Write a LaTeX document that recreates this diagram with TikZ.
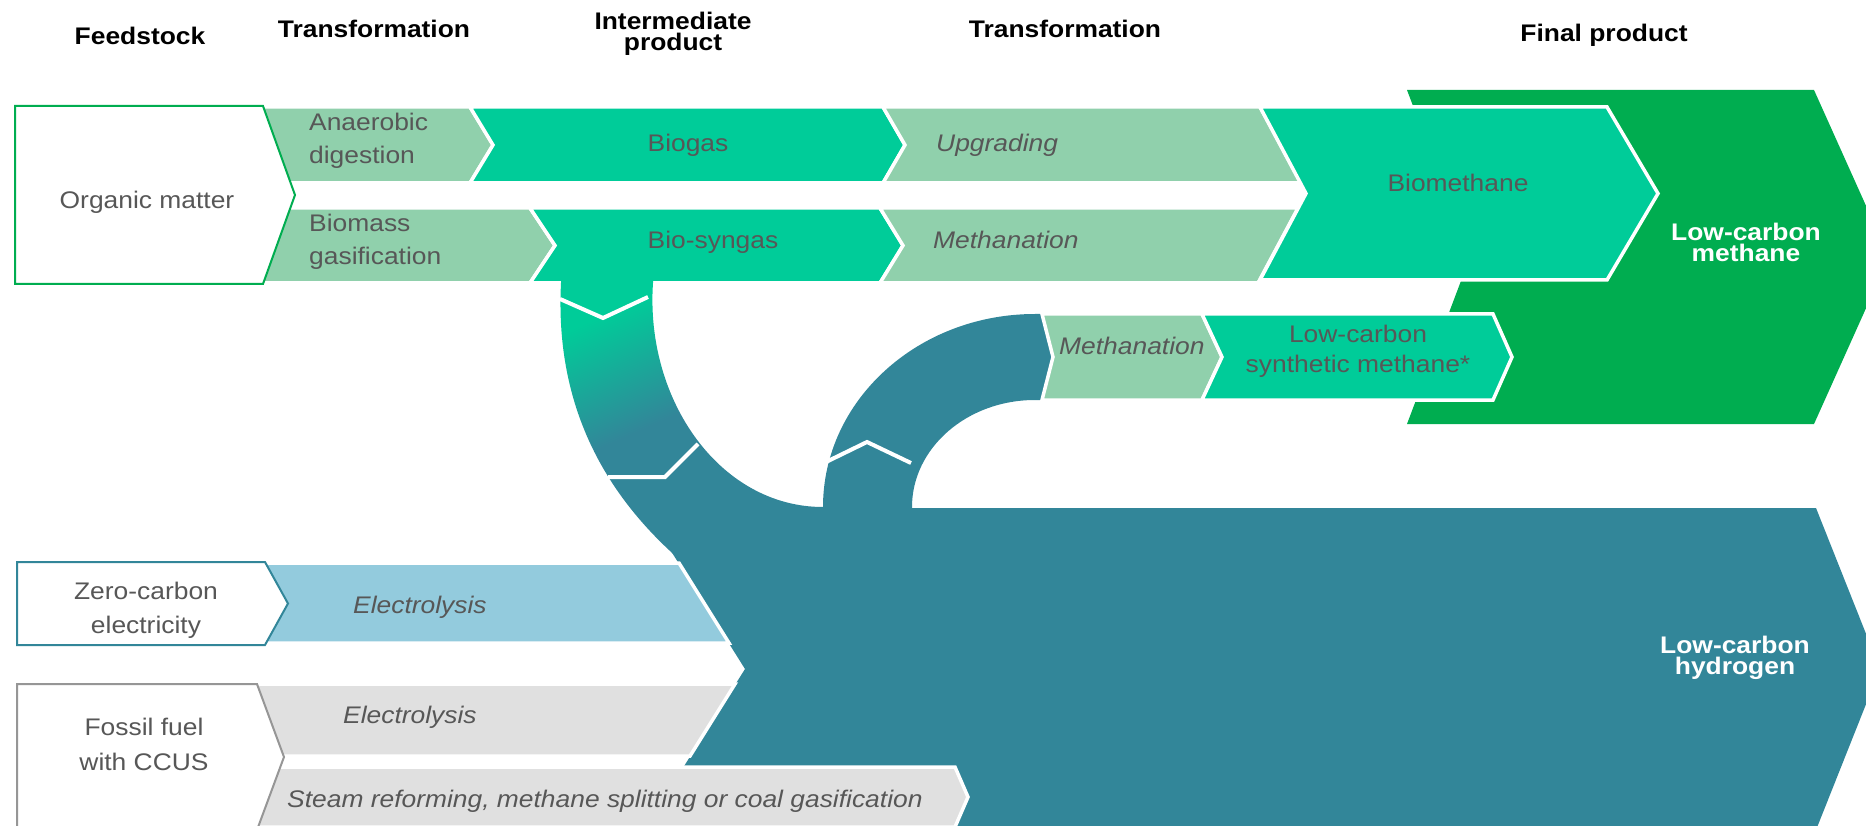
\documentclass[tikz,border=0pt]{standalone}
\usepackage{fontspec}
\setmainfont{Liberation Sans}[FakeStretch=1.1]
\usepackage{xcolor}
\usepackage{tikz}
\definecolor{bandgreen}{HTML}{90D0AC}
\definecolor{gasgreen}{HTML}{00CC99}
\definecolor{methgreen}{HTML}{00AD50}
\definecolor{hydroteal}{HTML}{328699}
\definecolor{elecblue}{HTML}{93CBDD}
\definecolor{fossilgray}{HTML}{E0E0E0}
\definecolor{framegray}{HTML}{969696}
\definecolor{textgray}{HTML}{575757}
\newcommand{\diagfont}{\fontsize{24}{33}\selectfont}
\newcommand{\tightfont}{\fontsize{24}{21}\selectfont}
\newcommand{\midfont}{\fontsize{24}{30}\selectfont}
\pgfdeclareverticalshading{arcflow}{100bp}{color(0bp)=(hydroteal); color(52bp)=(hydroteal); color(74bp)=(gasgreen); color(100bp)=(gasgreen)}
\tikzset{
  flowband/.style={draw=white, line width=3.5pt},
  lightband/.style={flowband, fill=bandgreen},
  gasband/.style={flowband, fill=gasgreen},
  blueband/.style={flowband, fill=elecblue},
  greyband/.style={flowband, fill=fossilgray},
  feedbox/.style={fill=white, line width=2pt},
  separator/.style={draw=white, line width=4pt},
  header/.style={font=\tightfont\bfseries, text=black, align=center, anchor=base, inner sep=0pt},
  bandtext/.style={font=\diagfont, text=textgray, align=left, anchor=base west, inner sep=0pt},
  boxtext/.style={font=\diagfont, text=textgray, align=center, anchor=base, inner sep=0pt},
  proctext/.style={font=\diagfont\itshape, text=textgray, anchor=base west, inner sep=0pt},
  finaltext/.style={font=\tightfont\bfseries, text=white, align=center, anchor=base, inner sep=0pt}
}
% ytop, ybottom, left x, notch x, right x, tip x
\newcommand{\chevron}[7][]{%
  \path[#1] (#4,#2) -- (#6,#2) -- (#7,{(#2+#3)/2}) -- (#6,#3) -- (#4,#3) -- (#5,{(#2+#3)/2}) -- cycle;}

\begin{document}
\begin{tikzpicture}[x=1pt, y=-1pt, font=\diagfont]
  \useasboundingbox (0,0) rectangle (1866,826);
  \clip (0,0) rectangle (1866,826);

  \chevron[fill=methgreen]{90}{424}{1407}{1470}{1814}{1889}
  \chevron[fill=hydroteal]{508}{830}{644}{745}{1816}{1880}

  \chevron[lightband]{107}{183}{240}{240}{470}{493}
  \chevron[gasband]{107}{183}{470}{493}{883}{905}
  \path[lightband] (883,107) -- (1260,107) -- (1301,183) -- (883,183) -- (905,145) -- cycle;
  \chevron[lightband]{208}{283}{240}{240}{530}{555}
  \chevron[gasband]{208}{283}{530}{555}{880}{903}
  \path[lightband] (880,208) -- (1298,208) -- (1258,283) -- (880,283) -- (903,245.5) -- cycle;
  \chevron[gasband]{107}{280}{1260}{1306}{1607}{1658}

  \shade[shading=arcflow, shading angle=24] (561,281) -- (653,281) -- (653,283)
    .. controls (645,400) and (720,507) .. (823,507) -- (823,560) -- (680,560)
    .. controls (600,490) and (555,400) .. (561,283) -- cycle;
  \fill[hydroteal] (823,515) -- (823,507) arc[start angle=180, end angle=270, x radius=212, y radius=193]
    -- (1042,314) -- (1053,357) -- (1042,400) -- (1035,400)
    arc[start angle=270, end angle=180, x radius=123, y radius=107] -- (912,515) -- cycle;

  \chevron[lightband]{314}{400}{1042}{1053}{1202}{1222}
  \chevron[gasband]{314}{400}{1202}{1222}{1493}{1512}
  \path[blueband] (240,563) -- (679,563) -- (729,643) -- (240,643) -- cycle;
  \path[greyband] (240,684) -- (735,684) -- (690,756) -- (240,756) -- cycle;
  \chevron[greyband]{767}{827}{240}{240}{955}{968}

  \chevron[feedbox, draw=methgreen]{106}{284}{15}{15}{263}{295}
  \chevron[feedbox, draw=hydroteal]{562}{645}{17}{17}{265}{288}
  \chevron[feedbox, draw=framegray]{684}{830}{17}{17}{257}{284}

  \draw[separator] (560,299) -- (603,318) -- (648,297);
  \draw[separator] (608,477) -- (665,477) -- (698,444);
  \draw[separator] (826,462) -- (867,442) -- (911,463);

  \node[header] (feedhead) at (140,45) {Feedstock};
  \node[header] (transhead) at (374,38) {Transformation};
  \node[header] (interhead) at (673,51) {Intermediate\\product};
  \node[header] (transhead2) at (1065,38) {Transformation};
  \node[header] (finalhead) at (1604,42) {Final product};

  \node[boxtext] (organic) at (147,209) {Organic matter};
  \node[boxtext, font=\fontsize{24}{34}\selectfont] (zerocarbon) at (146,633) {Zero-carbon\\electricity};
  \node[boxtext, font=\fontsize{24}{35}\selectfont] (fossil) at (144,770) {Fossil fuel\\with CCUS};
  \node[bandtext] (anaerobic) at (309,164) {Anaerobic\\digestion};
  \node[bandtext] (gasification) at (309,265) {Biomass\\gasification};
  \node[boxtext] (biogas) at (688,152) {Biogas};
  \node[boxtext] (syngas) at (713,249) {Bio-syngas};
  \node[proctext] (upgrading) at (936,152) {Upgrading};
  \node[proctext] (methanation) at (933,249) {Methanation};
  \node[boxtext] (biomethane) at (1458,192) {Biomethane};
  \node[proctext] (methanation2) at (1059,354) {Methanation};
  \node[boxtext, font=\midfont] (synthetic) at (1358,372) {Low-carbon\\synthetic methane*};
  \node[proctext] (electrolysis) at (353,613) {Electrolysis};
  \node[proctext] (electrolysis2) at (343,723) {Electrolysis};
  \node[proctext] (reforming) at (287,807) {Steam reforming, methane splitting or coal gasification};
  \node[finaltext] (methane) at (1746,262) {Low-carbon\\methane};
  \node[finaltext] (hydrogen) at (1735,674) {Low-carbon\\hydrogen};
\end{tikzpicture}
\end{document}
